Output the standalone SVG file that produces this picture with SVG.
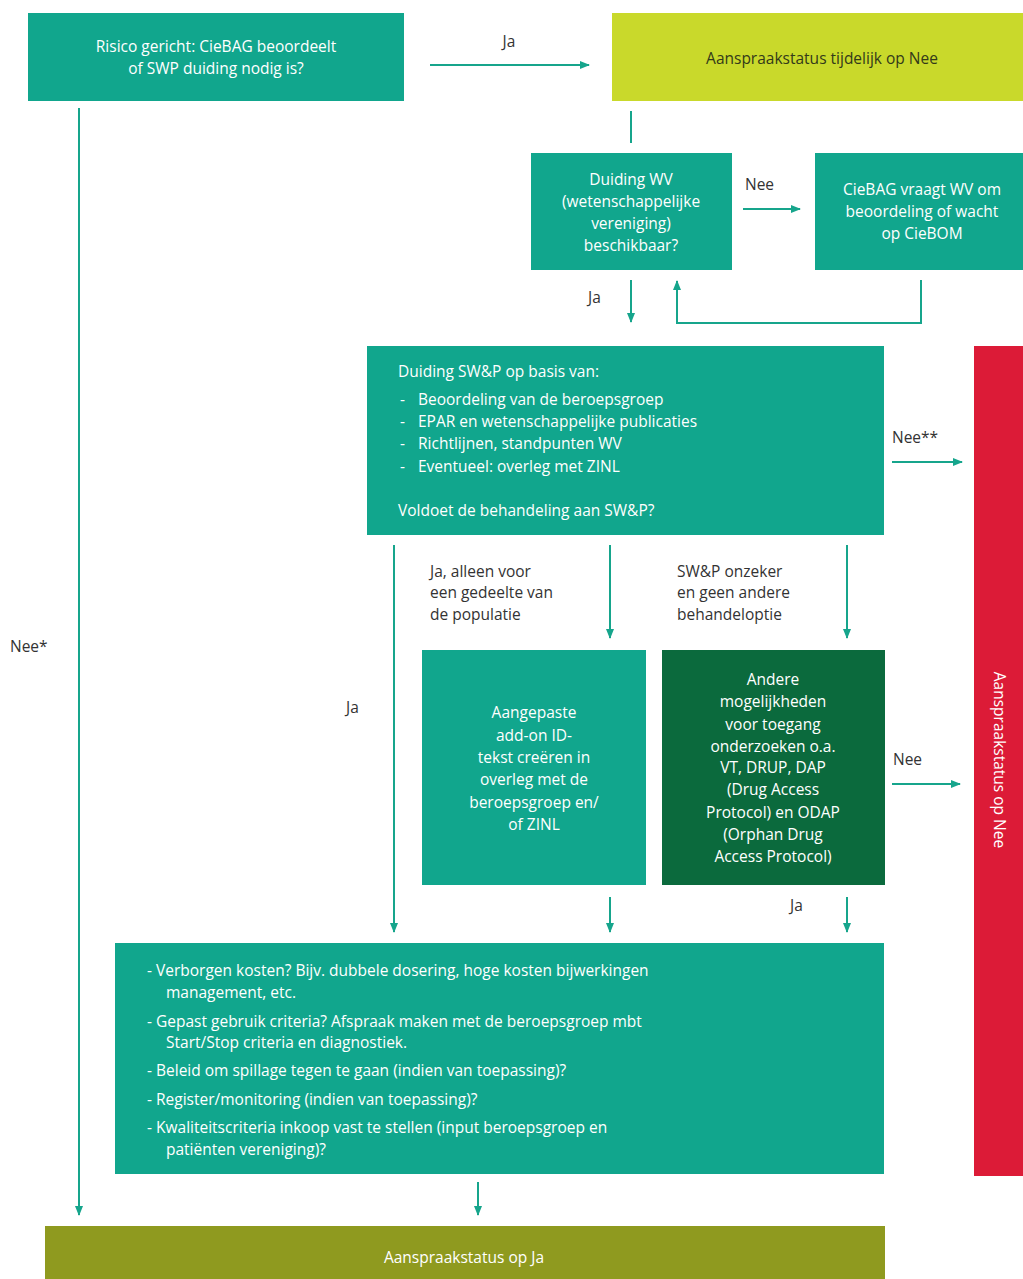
<svg xmlns="http://www.w3.org/2000/svg" width="1023" height="1279" viewBox="0 0 1023 1279">
<defs>
<marker id="ah" markerWidth="10" markerHeight="10" refX="9" refY="5" orient="auto" markerUnits="userSpaceOnUse">
<path d="M0,1 L10,5 L0,9 Z" fill="#16a58c"/>
</marker>
<style>
text{font-family:"Open Sans","Liberation Sans",Arial,sans-serif;font-size:15.5px}
.w{fill:#ffffff}
.c{text-anchor:middle}
.lbl{fill:#333333}
.teal{fill:#11a68d}
.conn{stroke:#16a58c;stroke-width:2;fill:none}
</style>
</defs>
<rect width="1023" height="1279" fill="#ffffff"/>

<g id="connectors">
<line class="conn" x1="430" y1="65" x2="589" y2="65" marker-end="url(#ah)"/>
<line class="conn" x1="631" y1="111" x2="631" y2="143"/>
<line class="conn" x1="743" y1="209" x2="800" y2="209" marker-end="url(#ah)"/>
<line class="conn" x1="631" y1="280" x2="631" y2="322" marker-end="url(#ah)"/>
<polyline class="conn" points="921,280 921,323 677,323 677,281" marker-end="url(#ah)"/>
<line class="conn" x1="79" y1="108" x2="79" y2="1215" marker-end="url(#ah)"/>
<line class="conn" x1="892" y1="462" x2="962" y2="462" marker-end="url(#ah)"/>
<line class="conn" x1="394" y1="545" x2="394" y2="932" marker-end="url(#ah)"/>
<line class="conn" x1="610" y1="545" x2="610" y2="638" marker-end="url(#ah)"/>
<line class="conn" x1="847" y1="545" x2="847" y2="638" marker-end="url(#ah)"/>
<line class="conn" x1="892" y1="784" x2="960" y2="784" marker-end="url(#ah)"/>
<line class="conn" x1="610" y1="897" x2="610" y2="932" marker-end="url(#ah)"/>
<line class="conn" x1="847" y1="897" x2="847" y2="932" marker-end="url(#ah)"/>
<line class="conn" x1="478" y1="1182" x2="478" y2="1215" marker-end="url(#ah)"/>
<text class="lbl c" x="509" y="47">Ja</text>
<text class="lbl" x="745" y="190">Nee</text>
<text class="lbl" x="588" y="303">Ja</text>
<text class="lbl" x="892" y="443">Nee**</text>
<text class="lbl" x="430" y="577">Ja, alleen voor</text>
<text class="lbl" x="430" y="598">een gedeelte van</text>
<text class="lbl" x="430" y="620">de populatie</text>
<text class="lbl" x="677" y="577">SW&amp;P onzeker</text>
<text class="lbl" x="677" y="598">en geen andere</text>
<text class="lbl" x="677" y="620">behandeloptie</text>
<text class="lbl" x="10" y="652">Nee*</text>
<text class="lbl" x="346" y="713">Ja</text>
<text class="lbl" x="893" y="765">Nee</text>
<text class="lbl" x="790" y="911">Ja</text>
</g>

<g id="n-risico">
<rect class="teal" x="28" y="13" width="376" height="88"/>
<text class="w c" x="216" y="52">Risico gericht: CieBAG beoordeelt</text>
<text class="w c" x="216" y="74">of SWP duiding nodig is?</text>
</g>

<g id="n-tijdelijk">
<rect x="612" y="13" width="411" height="88" fill="#c9d92b"/>
<text class="c" x="822" y="64" fill="#333a1a">Aanspraakstatus tijdelijk op Nee</text>
</g>

<g id="n-duidingwv">
<rect class="teal" x="531" y="153" width="201" height="117"/>
<text class="w c" x="631" y="185">Duiding WV</text>
<text class="w c" x="631" y="207">(wetenschappelijke</text>
<text class="w c" x="631" y="229">vereniging)</text>
<text class="w c" x="631" y="251">beschikbaar?</text>
</g>

<g id="n-ciebag">
<rect class="teal" x="815" y="153" width="208" height="117"/>
<text class="w c" x="922" y="195">CieBAG vraagt WV om</text>
<text class="w c" x="922" y="217">beoordeling of wacht</text>
<text class="w c" x="922" y="239">op CieBOM</text>
</g>

<g id="n-swp">
<rect class="teal" x="367" y="346" width="517" height="189"/>
<text class="w" x="398" y="377">Duiding SW&amp;P op basis van:</text>
<text class="w" x="400" y="405">-</text><text class="w" x="418" y="405">Beoordeling van de beroepsgroep</text>
<text class="w" x="400" y="427">-</text><text class="w" x="418" y="427">EPAR en wetenschappelijke publicaties</text>
<text class="w" x="400" y="449">-</text><text class="w" x="418" y="449">Richtlijnen, standpunten WV</text>
<text class="w" x="400" y="472">-</text><text class="w" x="418" y="472">Eventueel: overleg met ZINL</text>
<text class="w" x="398" y="516">Voldoet de behandeling aan SW&amp;P?</text>
</g>

<g id="n-nee">
<rect x="974" y="346" width="49" height="830" fill="#dc1b37"/>
<text class="w c" transform="translate(994,760) rotate(90)">Aanspraakstatus op Nee</text>
</g>

<g id="n-addon">
<rect class="teal" x="422" y="650" width="224" height="235"/>
<text class="w c" x="534" y="718">Aangepaste</text>
<text class="w c" x="534" y="741">add-on  ID-</text>
<text class="w c" x="534" y="763">tekst creëren in</text>
<text class="w c" x="534" y="785">overleg met de</text>
<text class="w c" x="534" y="808">beroepsgroep en/</text>
<text class="w c" x="534" y="830">of ZINL</text>
</g>

<g id="n-andere">
<rect x="662" y="650" width="223" height="235" fill="#0b6a3d"/>
<text class="w c" x="773" y="685">Andere</text>
<text class="w c" x="773" y="707">mogelijkheden</text>
<text class="w c" x="773" y="730">voor toegang</text>
<text class="w c" x="773" y="752">onderzoeken o.a.</text>
<text class="w c" x="773" y="773">VT, DRUP, DAP</text>
<text class="w c" x="773" y="795">(Drug Access</text>
<text class="w c" x="773" y="818">Protocol) en ODAP</text>
<text class="w c" x="773" y="840">(Orphan Drug</text>
<text class="w c" x="773" y="862">Access Protocol)</text>
</g>

<g id="n-criteria">
<rect class="teal" x="115" y="943" width="769" height="231"/>
<text class="w" x="147" y="976">- Verborgen kosten? Bijv. dubbele dosering, hoge kosten bijwerkingen</text>
<text class="w" x="166" y="998">management, etc.</text>
<text class="w" x="147" y="1027">- Gepast gebruik criteria? Afspraak maken met de beroepsgroep mbt</text>
<text class="w" x="166" y="1048">Start/Stop criteria en diagnostiek.</text>
<text class="w" x="147" y="1076">- Beleid om spillage tegen te gaan (indien van toepassing)?</text>
<text class="w" x="147" y="1105">- Register/monitoring (indien van toepassing)?</text>
<text class="w" x="147" y="1133">- Kwaliteitscriteria inkoop vast te stellen (input beroepsgroep en</text>
<text class="w" x="166" y="1155">patiënten vereniging)?</text>
</g>

<g id="n-ja">
<rect x="45" y="1226" width="840" height="53" fill="#8f9a1f"/>
<text class="w c" x="464" y="1263">Aanspraakstatus op Ja</text>
</g>
</svg>
